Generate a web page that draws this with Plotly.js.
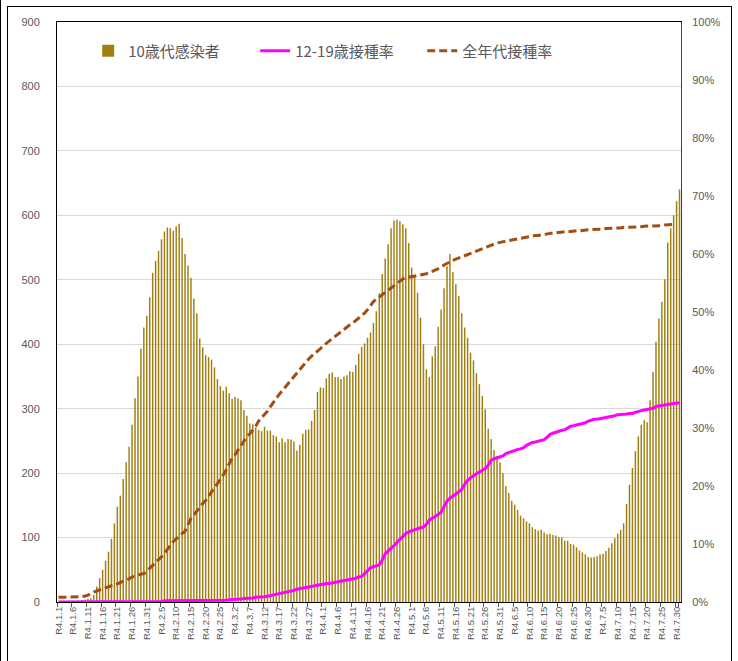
<!DOCTYPE html>
<html>
<head>
<meta charset="utf-8">
<script src="https://cdn.plot.ly/plotly-3.0.1.min.js"></script>
<style>
  html, body { margin: 0; padding: 0; background: #fff; }
  #wrap { position: relative; width: 738px; height: 661px; overflow: hidden; }
  #chart { position: absolute; left: 0; top: 0; width: 738px; height: 661px; }
  #frame { position: absolute; left: 7px; top: 6px; width: 723px; height: 700px; border: 1px solid #000; pointer-events: none; }
  #edge { position: absolute; left: 0px; top: 0px; width: 1px; height: 661px; background: #000; pointer-events: none; }
</style>
</head>
<body>
<div id="wrap">
  <div id="chart"></div>
  <div id="frame"></div>
  <div id="edge"></div>
</div>
<script>
// ---- Data ----
const monthLengths = [31, 28, 31, 30, 31, 30, 31]; // R4 (2022) Jan..Jul
const categories = [];
monthLengths.forEach(function (len, m) {
  for (let d = 1; d <= len; d++) categories.push('R4.' + (m + 1) + '.' + d);
});

// 10歳代感染者 (daily, R4.1.1 .. R4.7.31)
const teenCases = [
  0,0,0,1,1,1,1,2,3,4,
  5,6,11,24,37,50,64,78,98,122,
  148,165,191,217,241,275,316,350,393,426,
  444,473,511,529,545,563,575,581,580,576,
  583,587,565,540,522,503,471,448,409,395,
  383,380,376,364,346,335,328,334,324,315,
  318,316,313,298,289,277,276,271,267,265,
  272,266,266,259,257,248,254,248,253,252,
  249,235,244,261,267,268,281,298,326,333,
  332,347,354,356,349,349,346,350,352,358,
  357,368,385,396,401,410,418,433,451,479,
  509,533,555,580,592,593,591,586,580,557,
  519,506,480,441,400,361,349,381,397,427,
  454,487,521,540,512,493,475,448,426,410,
  387,375,355,338,320,299,269,253,236,227,
  217,200,180,169,157,151,143,134,130,125,
  122,116,113,111,112,108,105,106,104,103,
  101,100,95,95,90,89,85,80,77,74,
  70,69,70,71,74,75,79,84,91,99,
  106,112,122,152,182,208,234,257,275,282,
  279,313,357,404,440,466,501,558,580,600,
  622,640
];

// 12-19歳接種率 (%)
const rateTeen = [
  0.0,0.0,0.0,0.0,0.0,0.0,0.0,0.0,0.0,0.0,
  0.0,0.0,0.0,0.0,0.0,0.0,0.0,0.0,0.1,0.1,
  0.1,0.1,0.1,0.1,0.1,0.1,0.1,0.1,0.1,0.1,
  0.1,0.1,0.1,0.1,0.1,0.1,0.2,0.2,0.2,0.2,
  0.2,0.2,0.2,0.2,0.2,0.2,0.2,0.2,0.2,0.2,
  0.2,0.2,0.3,0.3,0.3,0.3,0.3,0.3,0.4,0.4,
  0.4,0.5,0.5,0.6,0.6,0.7,0.7,0.8,0.8,0.9,
  0.9,1.0,1.1,1.2,1.3,1.4,1.5,1.6,1.7,1.9,
  2.0,2.2,2.3,2.4,2.5,2.7,2.8,2.9,3.0,3.0,
  3.1,3.2,3.2,3.3,3.4,3.4,3.5,3.6,3.7,3.9,
  4.0,4.1,4.3,4.4,4.9,5.4,5.9,6.1,6.3,6.4,
  7.2,8.3,8.8,9.2,9.7,10.3,10.8,11.2,11.8,12.1,
  12.3,12.5,12.6,12.8,12.9,13.4,14.1,14.4,14.8,15.1,
  15.5,16.4,17.4,17.9,18.3,18.7,19.0,19.4,20.3,21.0,
  21.4,21.8,22.1,22.4,22.7,23.0,23.6,24.4,24.7,24.9,
  25.0,25.2,25.6,25.8,26.0,26.2,26.3,26.4,26.6,27.0,
  27.3,27.5,27.6,27.7,27.9,28.0,28.4,28.9,29.1,29.3,
  29.4,29.6,29.7,30.0,30.3,30.4,30.5,30.6,30.7,30.9,
  31.2,31.4,31.5,31.5,31.6,31.7,31.7,31.8,31.9,32.1,
  32.3,32.3,32.4,32.4,32.5,32.5,32.7,32.9,33.0,33.1,
  33.2,33.2,33.4,33.7,33.8,33.9,34.0,34.0,34.1,34.2,
  34.3,34.3
];

// 全年代接種率 (%)
const rateAll = [
  0.8,0.8,0.8,0.8,0.9,0.9,0.9,0.9,1.0,1.0,
  1.2,1.5,1.7,1.9,2.1,2.3,2.5,2.6,2.8,2.9,
  3.1,3.3,3.5,3.8,4.0,4.3,4.4,4.6,4.8,4.9,
  5.3,5.8,6.2,6.7,7.2,7.8,8.4,9.1,9.8,10.4,
  10.9,11.4,11.8,12.2,13.2,14.4,15.0,15.7,16.3,17.0,
  17.5,18.2,19.0,19.8,20.5,21.0,21.9,22.8,23.9,24.8,
  25.4,26.2,27.0,27.8,28.5,29.0,29.6,30.3,31.2,31.8,
  32.2,32.9,33.7,34.5,35.1,35.8,36.4,37.0,37.6,38.3,
  39.0,39.6,40.2,40.8,41.3,41.9,42.4,42.8,43.2,43.7,
  44.2,44.6,45.0,45.4,45.9,46.3,46.7,47.0,47.4,47.8,
  48.1,48.5,48.9,49.3,49.8,50.4,51.2,51.8,52.2,52.6,
  52.9,53.3,53.8,54.2,54.6,55.0,55.4,55.7,55.9,56.0,
  56.0,56.1,56.2,56.3,56.4,56.6,56.8,57.0,57.2,57.4,
  57.7,58.1,58.4,58.7,58.9,59.1,59.3,59.6,59.8,60.0,
  60.2,60.4,60.6,60.8,61.0,61.2,61.4,61.6,61.8,61.9,
  62.0,62.1,62.2,62.3,62.4,62.5,62.6,62.7,62.8,63.0,
  63.0,63.1,63.2,63.2,63.3,63.4,63.5,63.5,63.6,63.7,
  63.7,63.8,63.8,63.9,63.9,64.0,64.0,64.0,64.1,64.1,
  64.2,64.2,64.2,64.3,64.3,64.3,64.4,64.4,64.4,64.5,
  64.5,64.5,64.6,64.6,64.6,64.7,64.7,64.7,64.7,64.8,
  64.8,64.8,64.8,64.9,64.9,64.9,65.0,65.0,65.0,65.1,
  null,null
];

const seriesNames = ['10歳代感染者', '12-19歳接種率', '全年代接種率'];
const leftTicks = [0, 100, 200, 300, 400, 500, 600, 700, 800, 900];
const rightTicks = [0, 10, 20, 30, 40, 50, 60, 70, 80, 90, 100];
const xTickVals = categories.filter(function (c, i) { return i % 5 === 0; });

// ---- Chart ----
const grey = '#595959';
const numFont = 'Liberation Sans, Arial, sans-serif';
const jpFont = 'Noto Sans CJK JP, sans-serif';

const traces = [
  {
    type: 'bar', name: seriesNames[0], x: categories, y: teenCases,
    marker: { color: '#A07F12', line: { width: 0 } },
    yaxis: 'y'
  },
  {
    type: 'scatter', mode: 'lines', name: seriesNames[1], x: categories,
    y: rateTeen.map(function (v) { return v === null ? null : v / 100; }),
    line: { color: '#FF00FF', width: 3 },
    yaxis: 'y2'
  },
  {
    type: 'scatter', mode: 'lines', name: seriesNames[2], x: categories,
    y: rateAll.map(function (v) { return v === null ? null : v / 100; }),
    line: { color: '#A44D13', width: 3, dash: '8px,4px' },
    yaxis: 'y2'
  }
];

const layout = {
  width: 738, height: 661,
  margin: { l: 57, r: 57, t: 22, b: 59, pad: 0 },
  paper_bgcolor: '#fff', plot_bgcolor: '#fff',
  bargap: 0.5,
  showlegend: true,
  legend: {
    orientation: 'h', x: 0.05, xanchor: 'left', y: 0.95, yanchor: 'middle',
    font: { family: jpFont, size: 15, color: grey },
    bgcolor: 'rgba(0,0,0,0)', entrywidth: 122, itemwidth: 30,
    traceorder: 'normal'
  },
  xaxis: {
    type: 'category', categoryorder: 'array', categoryarray: categories,
    range: [-0.5, categories.length - 0.5],
    tickmode: 'array', tickvals: xTickVals, ticktext: xTickVals,
    tickangle: -90, tickfont: { family: numFont, size: 9.5, color: grey },
    ticks: 'outside', ticklen: 4, tickcolor: grey, tickson: 'boundaries',
    showgrid: false, showline: true, linecolor: '#000', linewidth: 1, mirror: true,
    zeroline: false, fixedrange: true
  },
  yaxis: {
    range: [0, 900], tickmode: 'array', tickvals: leftTicks, ticktext: leftTicks.map(String),
    tickfont: { family: numFont, size: 11, color: grey },
    showgrid: true, gridcolor: '#D9D9D9', gridwidth: 1,
    showline: true, linecolor: '#000', linewidth: 1,
    ticks: '', ticklabelstandoff: 14, zeroline: false
  },
  yaxis2: {
    overlaying: 'y', side: 'right', range: [0, 1],
    tickmode: 'array', tickvals: rightTicks.map(function (v) { return v / 100; }),
    ticktext: rightTicks.map(function (v) { return v + '%'; }),
    tickfont: { family: numFont, size: 11, color: grey },
    showgrid: false, showline: true, linecolor: '#404040', linewidth: 1,
    ticks: '', ticklabelstandoff: 8, zeroline: false
  }
};

Plotly.newPlot('chart', traces, layout, { displayModeBar: false, staticPlot: true });
</script>
</body>
</html>
